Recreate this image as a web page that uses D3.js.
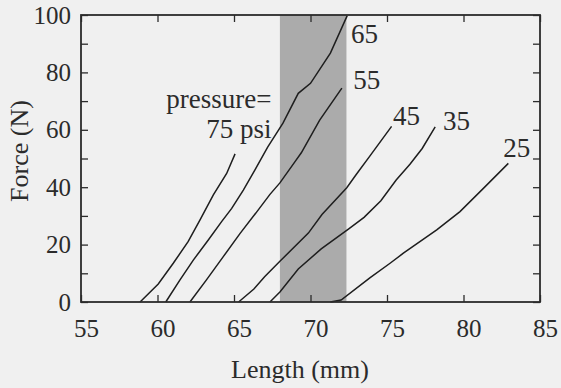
<!DOCTYPE html>
<html>
<head>
<meta charset="utf-8">
<script src="https://cdn.jsdelivr.net/npm/d3@7"></script>
<style>
  body { margin: 0; background: #f0f0f0; }
  svg { display: block; }
  text { font-family: "Liberation Serif", "Times New Roman", serif; fill: #2b2b2b; }
</style>
</head>
<body>
<svg></svg>
<script>
// Force vs length curves, one per pressure (psi)
const p75 = [[58.86,0],[60.05,6.3],[61.03,13.5],[62.0,21],[62.78,28.6],[63.65,37.3],[64.52,44.8],[65.07,51.6]];
const p65 = [[60.54,0],[61.47,7.7],[62.34,14.6],[63.32,21.6],[64.19,28],[64.85,32.6],[65.61,39],[66.37,46],[67.2,54],[68.2,62.3],[69.2,72.7],[70.0,76.2],[71.3,86.7],[72.4,99.8]];
const p55 = [[62.12,0],[63.2,7.7],[64.3,15.8],[65.4,23.9],[66.5,31.5],[67.35,37.5],[68.0,41.5],[69.0,49],[69.4,52],[70.6,63.4],[72.05,74.5]];
const p45 = [[65.3,0],[66.3,4.5],[67.0,8.8],[68.0,14.2],[69.86,24],[70.75,30.5],[72.37,39.8],[73.0,44.5],[73.9,51],[75.3,61.2]];
const p35 = [[67.35,0],[68.0,3.5],[69.2,11.5],[70.7,18.5],[72.5,25.5],[73.5,29.5],[74.6,35.3],[75.6,42.5],[76.5,48],[77.3,53.5],[78.15,61]];
const p25 = [[71.3,0],[72.0,0.7],[73.9,8.5],[75.2,13.5],[76.07,17],[78.25,25.1],[79.77,31.5],[81.3,39.6],[82.93,48.3]];

const curves = [p75, p65, p55, p45, p35, p25];
const curveLabels = ["", "65", "55", "45", "35", "25"];
const labelPos = [null, [72.65, 90.4], [72.8, 74.2], [75.4, 61.7], [78.66, 59.9], [82.6, 50.5]];

const shadeRange = [68, 72.35];
const xTicks = [55, 60, 65, 70, 75, 80, 85];
const yTicks = [0, 20, 40, 60, 80, 100];
const yMinor = [10, 30, 50, 70, 90];

const svgWidth = 561, svgHeight = 388;
const margin = { top: 15, right: 21, bottom: 86, left: 81 };
const w = svgWidth - margin.left - margin.right;
const h = svgHeight - margin.top - margin.bottom;

const svg = d3.select("svg")
    .attr("width", svgWidth)
    .attr("height", svgHeight);

const g = svg.append("g")
    .attr("transform", `translate(${margin.left},${margin.top})`);

const x = d3.scaleLinear().domain([55, 85]).range([0, w]);
const y = d3.scaleLinear().domain([0, 100]).range([h, 0]);

// shaded band
g.append("rect")
    .attr("x", x(shadeRange[0]))
    .attr("y", 0)
    .attr("width", x(shadeRange[1]) - x(shadeRange[0]))
    .attr("height", h)
    .attr("fill", "#ababab");

// curves
const line = d3.line().x(d => x(d[0])).y(d => y(d[1]));
g.selectAll(".curve")
    .data(curves)
    .enter()
    .append("path")
    .attr("class", "curve")
    .attr("d", line)
    .attr("fill", "none")
    .attr("stroke", "#1e1e1e")
    .attr("stroke-width", 1.5);

// curve labels
curveLabels.forEach((t, i) => {
    if (!t) return;
    g.append("text")
        .attr("x", x(labelPos[i][0]))
        .attr("y", y(labelPos[i][1]))
        .attr("font-size", 27)
        .text(t);
});

g.append("text")
    .attr("x", x(67.45))
    .attr("y", y(67.5))
    .attr("text-anchor", "end")
    .attr("font-size", 27)
    .text("pressure=");
g.append("text")
    .attr("x", x(67.45))
    .attr("y", y(57.3))
    .attr("text-anchor", "end")
    .attr("font-size", 27)
    .text("75 psi");

// axes (ticks pointing inward)
const tickLen = 7;
const axisStyle = sel => {
    sel.attr("font-family", null);
    sel.select(".domain").remove();
    sel.selectAll("line").attr("stroke", "#2b2b2b").attr("stroke-width", 1.3);
};

g.append("g")
    .attr("transform", `translate(0,${h})`)
    .call(d3.axisBottom(x).tickValues(xTicks).tickSize(-tickLen).tickPadding(17))
    .call(axisStyle)
    .call(s => s.selectAll("text").attr("font-size", 25).attr("dx", 5).attr("dy", "0.71em"));

g.append("g")
    .call(d3.axisTop(x).tickValues(xTicks).tickSize(-tickLen).tickFormat(""))
    .call(axisStyle);

g.append("g")
    .call(d3.axisLeft(y).tickValues(yTicks.concat(yMinor)).tickSize(-tickLen).tickPadding(10)
        .tickFormat(d => yTicks.includes(d) ? d : ""))
    .call(axisStyle)
    .call(s => s.selectAll("text").attr("font-size", 25));

g.append("g")
    .attr("transform", `translate(${w},0)`)
    .call(d3.axisRight(y).tickValues(yTicks.concat(yMinor)).tickSize(-tickLen).tickFormat(""))
    .call(axisStyle);

// frame
g.append("rect")
    .attr("width", w)
    .attr("height", h)
    .attr("fill", "none")
    .attr("stroke", "#2b2b2b")
    .attr("stroke-width", 1.8);

// axis titles
svg.append("text")
    .attr("x", 300)
    .attr("y", 378)
    .attr("text-anchor", "middle")
    .attr("font-size", 26)
    .text("Length (mm)");

svg.append("text")
    .attr("transform", "rotate(-90)")
    .attr("x", -151)
    .attr("y", 28)
    .attr("text-anchor", "middle")
    .attr("font-size", 26)
    .text("Force (N)");
</script>
</body>
</html>
